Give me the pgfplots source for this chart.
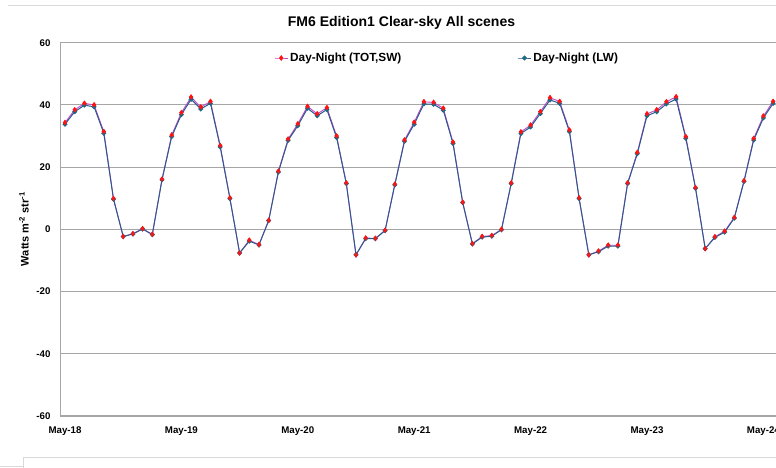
\documentclass[border=0pt]{standalone}
\usepackage{fontspec}
\setmainfont{Liberation Sans}
\usepackage{pgfplots}
\usepackage{pgfplotstable}
\pgfplotsset{compat=1.18}
\definecolor{gridc}{RGB}{166,166,166}
\definecolor{swline}{RGB}{200,70,200}
\definecolor{swmark}{RGB}{255,20,20}
\definecolor{lwline}{RGB}{40,90,140}
\definecolor{lwmark}{RGB}{30,105,135}
\definecolor{framec}{RGB}{217,217,217}
\pgfplotstableread{
x sw lw
0 34.3 33.8
1 38.4 37.8
2 40.5 39.9
3 40.0 39.4
4 31.4 30.9
5 9.9 9.7
6 -2.3 -2.3
7 -1.4 -1.5
8 0.2 0.1
9 -1.6 -1.7
10 16.1 15.9
11 30.3 29.8
12 37.5 36.9
13 42.5 41.8
14 39.3 38.7
15 41.1 40.5
16 26.9 26.5
17 10.1 9.9
18 -7.6 -7.6
19 -3.5 -3.8
20 -4.9 -5.0
21 2.9 2.8
22 18.7 18.4
23 29.0 28.6
24 33.9 33.3
25 39.5 38.9
26 37.1 36.5
27 39.1 38.5
28 30.0 29.5
29 14.9 14.7
30 -8.2 -8.2
31 -2.8 -3.0
32 -2.9 -3.0
33 -0.3 -0.4
34 14.5 14.3
35 28.7 28.3
36 34.4 33.8
37 41.0 40.3
38 40.8 40.2
39 38.9 38.3
40 28.0 27.6
41 8.7 8.6
42 -4.6 -4.7
43 -2.3 -2.5
44 -2.0 -2.2
45 0.0 -0.1
46 14.9 14.7
47 31.3 30.8
48 33.5 32.9
49 37.8 37.2
50 42.3 41.6
51 41.1 40.5
52 31.9 31.4
53 10.1 9.9
54 -8.2 -8.2
55 -7.0 -7.2
56 -5.1 -5.4
57 -5.1 -5.4
58 14.9 14.7
59 24.7 24.3
60 37.1 36.5
61 38.4 37.8
62 41.0 40.3
63 42.6 41.9
64 29.8 29.3
65 13.4 13.2
66 -6.2 -6.2
67 -2.4 -2.6
68 -0.6 -0.9
69 3.8 3.6
70 15.6 15.4
71 29.2 28.7
72 36.4 35.8
73 41.1 40.5
}\data
\begin{document}
\begin{tikzpicture}
\useasboundingbox (0pt,0pt) rectangle (776pt,468pt);
\draw[framec, line width=1pt] (8pt,462pt) -- (776pt,462pt);
\draw[framec, line width=0.8pt] (0pt,2pt) -- (23pt,2pt) (23pt,0pt) -- (23pt,11pt) -- (776pt,11pt);
\node[font=\bfseries\fontsize{14}{16}\selectfont] at (401.5pt,445.5pt) {FM6 Edition1 Clear-sky All scenes};
\node[font=\bfseries\fontsize{11}{13}\selectfont, rotate=90] at (24pt,239pt) {Watts m\textsuperscript{-2} str\textsuperscript{-1}};
\begin{axis}[
  at={(60pt,52pt)}, anchor=south west, scale only axis, width=716pt, height=373.3pt,
  xmin=-0.515, xmax=73.3, ymin=-60, ymax=60,
  ytick={-60,-40,-20,0,20,40,60}, yticklabels={-60,-40,-20,0,20,40,60},
  xtick={0,12,24,36,48,60,72}, xticklabels={May-18,May-19,May-20,May-21,May-22,May-23,May-24},
  axis x line*=bottom, axis y line*=left, axis line style={gridc, line width=1pt, -},
  ymajorgrids, grid style={gridc, line width=0.9pt},
  major tick length=0pt,
  tick label style={font=\bfseries\fontsize{9.7}{11}\selectfont},
  yticklabel style={xshift=-6pt},
  xticklabel style={yshift=-7pt},
  legend columns=2,
  legend style={at={(axis description cs:0.299,0.959)}, anchor=west, draw=none, fill=none,
    inner sep=0pt, font=\bfseries\fontsize{11.8}{13}\selectfont,
    /tikz/every even column/.append style={column sep=114pt}},
  legend image code/.code={\draw[#1, mark repeat=2, mark phase=2] plot coordinates {(0pt,0pt) (6.5pt,0pt) (13pt,0pt)};},
]
\addplot[swline, line width=0.9pt, mark=diamond*, mark size=2.2pt, mark options={swmark, solid}] table[x=x,y=sw]{\data};
\addlegendentry{Day-Night (TOT,SW)}
\addplot[lwline, line width=1pt, mark=*, mark size=1.9pt, mark options={lwmark, solid}] table[x=x,y=lw]{\data};
\addlegendentry{Day-Night (LW)}
\addplot[only marks, mark=diamond*, mark size=2.2pt, swmark, forget plot] table[x=x,y=sw]{\data};
\end{axis}
\end{tikzpicture}
\end{document}
